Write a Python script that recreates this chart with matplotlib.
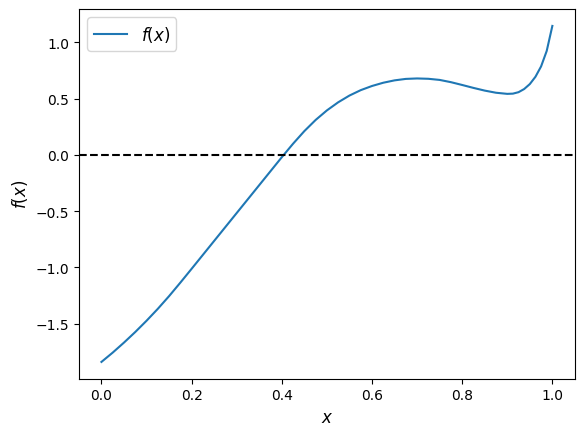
import matplotlib
matplotlib.use("Agg")
import matplotlib.pyplot as plt

x_vals = [0.0, 0.025, 0.05, 0.075, 0.10, 0.125, 0.15, 0.175, 0.20, 0.225,
          0.25, 0.275, 0.30, 0.325, 0.35, 0.375, 0.40, 0.425, 0.45, 0.475,
          0.50, 0.525, 0.55, 0.575, 0.60, 0.625, 0.65, 0.675, 0.70, 0.725,
          0.75, 0.775, 0.80, 0.825, 0.85, 0.875, 0.90, 0.9125, 0.925, 0.9375,
          0.95, 0.9625, 0.975, 0.9875, 1.0]
f_vals = [-1.840, -1.757, -1.668, -1.574, -1.474, -1.368, -1.255, -1.135, -1.012, -0.888,
          -0.764, -0.640, -0.516, -0.392, -0.268, -0.144, -0.020, 0.100, 0.212, 0.311,
          0.396, 0.468, 0.528, 0.576, 0.613, 0.642, 0.663, 0.676, 0.680, 0.677,
          0.667, 0.647, 0.622, 0.596, 0.572, 0.553, 0.543, 0.545, 0.558, 0.586,
          0.630, 0.695, 0.787, 0.925, 1.147]

fig, ax = plt.subplots(figsize=(6.4, 4.8), dpi=100)
ax.plot(x_vals, f_vals, color="C0", label="$f(x)$")
ax.axhline(0, color="black", linestyle="--")
ax.set_xlabel("$x$", fontsize=12)
ax.set_ylabel("$f(x)$", fontsize=12)
ax.legend(fontsize=12, loc="upper left")
fig.savefig("out.png", dpi=100, bbox_inches="tight")
